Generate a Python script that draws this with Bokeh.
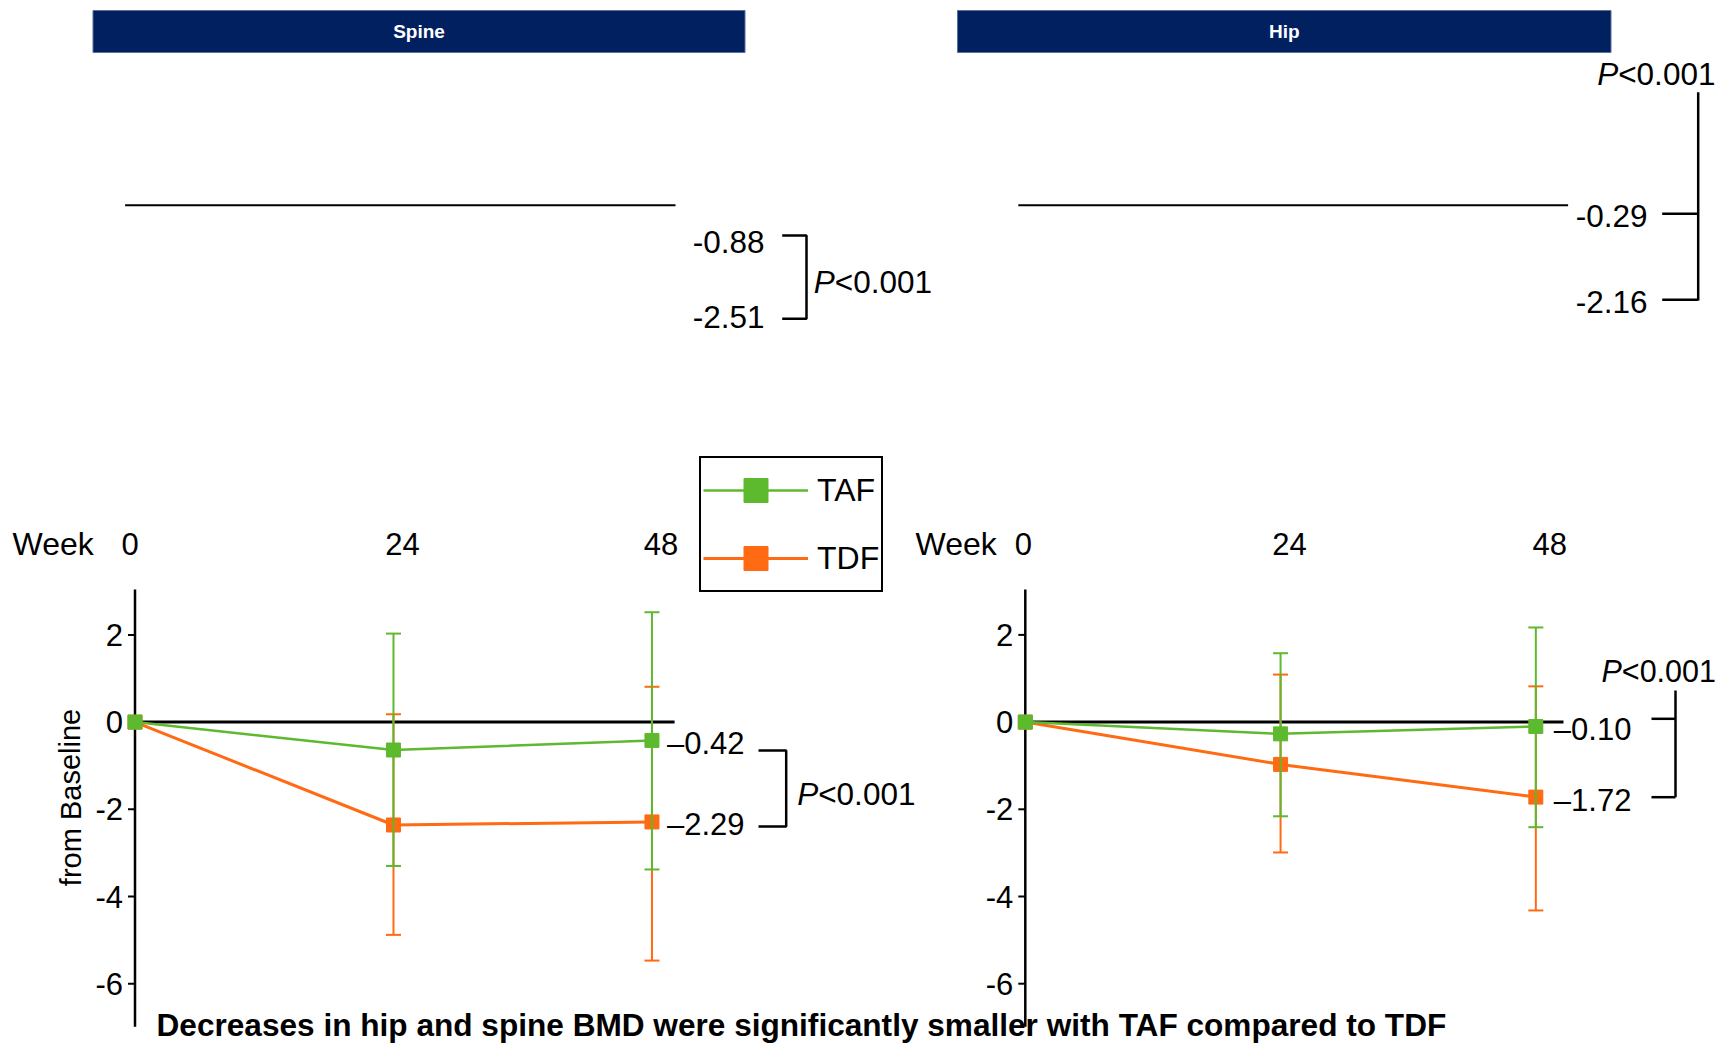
from bokeh.plotting import figure
from bokeh.models import Range1d, Legend, LegendItem
from bokeh.core.properties import value
from bokeh.embed import file_html
from bokeh.resources import INLINE

# ---------------- data ----------------
weeks = [0, 24, 48]
err_weeks = [24, 48]
week_tick_labels = ["0", "24", "48"]
y_ticks = [2, 0, -2, -4, -6]
y_tick_labels = ["2", "0", "-2", "-4", "-6"]

spine_taf = [0.0, -0.64, -0.42]
spine_tdf = [0.0, -2.36, -2.29]
spine_taf_hi = [2.03, 2.52]
spine_taf_lo = [-3.30, -3.38]
spine_tdf_hi = [0.18, 0.81]
spine_tdf_lo = [-4.88, -5.47]

hip_taf = [0.0, -0.27, -0.10]
hip_tdf = [0.0, -0.97, -1.72]
hip_taf_hi = [1.58, 2.17]
hip_taf_lo = [-2.16, -2.41]
hip_tdf_hi = [1.09, 0.82]
hip_tdf_lo = [-2.99, -4.32]

spine_end_labels = ["\u20130.42", "\u20132.29"]
hip_end_labels = ["\u20130.10", "\u20131.72"]
spine_top_labels = ["-0.88", "-2.51"]
hip_top_labels = ["-0.29", "-2.16"]
series_names = ["TAF", "TDF"]
panel_titles = ["Spine", "Hip"]
title_text = "Decreases in hip and spine BMD were significantly smaller with TAF compared to TDF"
y_label = "from Baseline"

# ---------------- styles / layout ----------------
FONT = "Liberation Sans"
GREEN = "#5DB92E"
ORANGE = "#FF6A13"
NAVY = "#002060"

W, H = 1719, 1045

PPU = 43.6          # pixels per y unit
Y0 = 721.6          # page y of value 0
AXIS_TOP, AXIS_BOTTOM = 3.04, -6.99
panels = {
    "spine": dict(x0=134.5, ppw=10.77, zero_end=50.1, week_word_x=12,
                  week_off=[-5, 9, 9], end_dx=15),
    "hip": dict(x0=1024.8, ppw=10.636, zero_end=50.6, week_word_x=915,
                week_off=[-2, 9, 14], end_dx=18),
}

p = figure(width=W, height=H, x_range=Range1d(0, W), y_range=Range1d(H, 0),
           min_border=0, toolbar_location=None, output_backend="svg",
           x_axis_type=None, y_axis_type=None, title=None)
p.outline_line_color = None
p.background_fill_color = "white"
p.border_fill_color = "white"

ex, ey = {}, {}
for name, cfg in panels.items():
    x0 = cfg["x0"]
    ex[name] = Range1d(start=-x0 / cfg["ppw"], end=(W - x0) / cfg["ppw"])
    ey[name] = Range1d(start=-(H - Y0) / PPU, end=Y0 / PPU)
p.extra_x_ranges = ex
p.extra_y_ranges = ey


def txt(x, y, t, size=31, align="left", baseline="middle", style="normal",
        color="black", angle=0.0, xr="default", yr="default", x_offset=0, y_offset=0):
    return p.text(x=x, y=y, text=t, text_font=value(FONT), text_font_size=f"{size}px",
                  text_align=align, text_baseline=baseline, text_font_style=style,
                  text_color=color, angle=angle, x_range_name=xr, y_range_name=yr,
                  x_offset=x_offset, y_offset=y_offset)


def draw_panel(name, taf, tdf, taf_hi, taf_lo, tdf_hi, tdf_lo, end_labels):
    cfg = panels[name]
    ax = cfg["x0"]
    kw = dict(x_range_name=name, y_range_name=name)
    # y axis
    p.segment(x0=[0], y0=[AXIS_BOTTOM], x1=[0], y1=[AXIS_TOP], line_color="black",
              line_width=2.5, **kw)
    n = len(y_ticks)
    p.segment(x0=[ax - 7] * n, x1=[ax] * n, y0=y_ticks, y1=y_ticks, y_range_name=name,
              line_color="black", line_width=2)
    txt([ax - 12] * n, y_ticks, y_tick_labels, size=31, align="right", yr=name)
    # zero line
    p.segment(x0=[0], x1=[cfg["zero_end"]], y0=[0], y1=[0], line_color="black",
              line_width=3, **kw)
    # TDF
    o_line = p.line(weeks, tdf, line_color=ORANGE, line_width=3, **kw)
    p.segment(x0=err_weeks, x1=err_weeks, y0=tdf_lo, y1=tdf_hi, line_color=ORANGE,
              line_width=2, **kw)
    p.scatter(err_weeks + err_weeks, tdf_lo + tdf_hi, marker="dash", size=15,
              line_color=ORANGE, line_width=2, **kw)
    o_mark = p.scatter(weeks, tdf, marker="square", size=14, fill_color=ORANGE,
                       line_color=ORANGE, **kw)
    # TAF
    g_line = p.line(weeks, taf, line_color=GREEN, line_width=2.5, **kw)
    p.segment(x0=err_weeks, x1=err_weeks, y0=taf_lo, y1=taf_hi, line_color=GREEN,
              line_width=2, **kw)
    p.scatter(err_weeks + err_weeks, taf_lo + taf_hi, marker="dash", size=15,
              line_color=GREEN, line_width=2, **kw)
    g_mark = p.scatter(weeks, taf, marker="square", size=14, fill_color=GREEN,
                       line_color=GREEN, **kw)
    # week axis labels
    txt([cfg["week_word_x"]], [543], ["Week"], size=32)
    txt(weeks, [543] * 3, week_tick_labels, size=31, align="center", xr=name,
        x_offset=cfg["week_off"])
    # end-value labels
    txt([48, 48], [taf[-1], tdf[-1]], end_labels, size=31, xr=name, yr=name,
        x_offset=cfg["end_dx"], y_offset=3)
    return g_line, g_mark, o_line, o_mark


def p_label(x_left, y_mid, size=31.5):
    txt([x_left], [y_mid], ["P"], size=size, style="italic")
    txt([x_left + 0.667 * size], [y_mid], ["<0.001"], size=size)


# ---------------- top section ----------------
bars_left = [92.5, 957]
bars_right = [744.5, 1610.5]
p.quad(left=bars_left, right=bars_right, top=[10] * 2, bottom=[52] * 2,
       fill_color=NAVY, line_color="#5A6F99", line_width=1)
txt([(a + b) / 2 for a, b in zip(bars_left, bars_right)], [31] * 2, panel_titles,
    size=19, align="center", style="bold", color="white")

p.segment(x0=[124.6, 1017.8], x1=[675, 1567.6], y0=[204.7] * 2, y1=[204.7] * 2,
          line_color="black", line_width=2)

txt([764] * 2, [241.7, 316.7], spine_top_labels, size=31.5, align="right")
p.multi_line(xs=[[781.7, 806, 806, 781.7]], ys=[[235, 235, 318.3, 318.3]],
             line_color="black", line_width=2.5)
p_label(813.3, 281.7)

txt([1647] * 2, [215, 301], hip_top_labels, size=31.5, align="right")
p.multi_line(xs=[[1697.7, 1697.7], [1661.7, 1697.7], [1661.7, 1697.7]],
             ys=[[91.7, 300], [213.3, 213.3], [299.3, 299.3]],
             line_color="black", line_width=2.5)
p_label(1596.7, 73.3)

# ---------------- panels ----------------
g_line, g_mark, o_line, o_mark = draw_panel("spine", spine_taf, spine_tdf, spine_taf_hi,
                                            spine_taf_lo, spine_tdf_hi, spine_tdf_lo,
                                            spine_end_labels)
draw_panel("hip", hip_taf, hip_tdf, hip_taf_hi, hip_taf_lo, hip_tdf_hi, hip_tdf_lo,
           hip_end_labels)

# brackets of the lower panels
p.multi_line(xs=[[758, 785.7, 785.7, 758]], ys=[[750, 750, 826, 826]],
             line_color="black", line_width=2.5)
p_label(796.7, 793.3)
p.multi_line(xs=[[1675, 1675], [1651, 1675], [1651, 1675]],
             ys=[[690, 796.7], [718.3, 718.3], [796.7, 796.7]],
             line_color="black", line_width=2.5)
p_label(1601, 670, size=30.5)

# y label (partially visible in the reference)
txt([70], [797], [y_label], size=29, align="center", baseline="alphabetic",
    angle=1.5708)

# bottom title
txt([156], [1024], [title_text], size=31.6, style="bold")

# legend
legend = Legend(items=[LegendItem(label=series_names[0], renderers=[g_line, g_mark]),
                       LegendItem(label=series_names[1], renderers=[o_line, o_mark])],
                location=(699, H - 592), orientation="vertical",
                glyph_width=105, glyph_height=60, spacing=8, padding=2, margin=0,
                label_standoff=9, label_text_font=FONT, label_text_font_size="32px",
                label_text_color="black",
                border_line_color="black", border_line_width=2.5, border_line_alpha=1.0,
                background_fill_color="white", background_fill_alpha=1.0)
p.add_layout(legend)

open("out.html", "w").write(file_html(p, INLINE))
